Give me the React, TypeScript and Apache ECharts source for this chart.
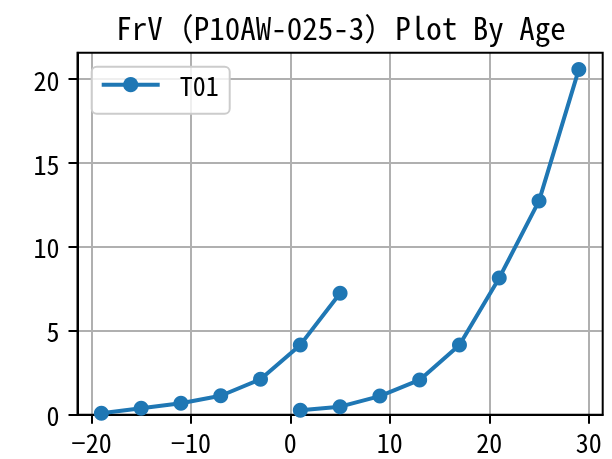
import React, { useEffect, useRef } from 'react';
import * as echarts from 'echarts';

const titleText = 'FrV（P10AW-025-3）Plot By Age';
const seriesName = 'T01';
const agesA = [-19, -15, -11, -7, -3, 1, 5];
const valuesA = [0.08, 0.38, 0.68, 1.13, 2.11, 4.16, 7.24];
const agesB = [1, 5, 9, 13, 17, 21, 25, 29];
const valuesB = [0.26, 0.48, 1.11, 2.07, 4.16, 8.15, 12.74, 20.58];
const xTicks = [-20, -10, 0, 10, 20, 30];
const yTicks = [0, 5, 10, 15, 20];
const xRange = [-21.4, 31.4];
const yRange = [0, 21.575];

const FONT = '"Noto Sans Mono CJK SC", "Noto Sans CJK SC", sans-serif';
const BLUE = '#1f77b4';

export default function App() {
  const ref = useRef<HTMLDivElement>(null);
  useEffect(() => {
    document.body.style.margin = '0';
    const chart = echarts.init(ref.current!, null, { renderer: 'svg' });
    const fmt = (v: number) => (v < 0 ? '\u2212' + Math.abs(v) : String(v));
    const mkSeries = (xs: number[], ys: number[]) => ({
      type: 'line',
      name: seriesName,
      data: xs.map((x, i) => [x, ys[i]]),
      symbol: 'circle',
      symbolSize: 15,
      showSymbol: true,
      lineStyle: { color: BLUE, width: 4 },
      itemStyle: { color: BLUE },
      emphasis: { disabled: true },
      clip: false,
      z: 3,
    });
    chart.setOption({
      animation: false,
      textStyle: { fontFamily: FONT },
      grid: {
        left: 77.5,
        right: 9.3,
        top: 52.7,
        bottom: 44.3,
        show: true,
        borderColor: '#000',
        borderWidth: 2,
        backgroundColor: 'transparent',
        z: 2,
      },
      graphic: [
        {
          type: 'text',
          x: 341,
          y: 26,
          z: 10,
          style: {
            text: titleText,
            fontFamily: FONT,
            fontSize: 31,
            fill: '#000',
            align: 'center',
            verticalAlign: 'middle',
          },
        },
      ],
      legend: {
        left: 91.7,
        top: 66.7,
        data: [seriesName],
        itemWidth: 58,
        itemHeight: 19,
        padding: [5, 11, 16, 8],
        backgroundColor: 'rgba(255,255,255,0.8)',
        borderColor: '#cccccc',
        borderWidth: 2,
        borderRadius: 5,
        lineStyle: { width: 4, color: BLUE },
        itemStyle: { color: BLUE },
        textStyle: {
          fontFamily: FONT,
          fontSize: 26,
          color: '#000',
          padding: [0, 0, 0, 15],
          lineHeight: 26,
        },
        z: 20,
      },
      xAxis: {
        type: 'value',
        min: xRange[0],
        max: xRange[1],
        axisLine: { show: true, onZero: false, lineStyle: { color: '#000', width: 2 } },
        axisTick: { show: true, length: 9, customValues: xTicks, lineStyle: { color: '#000', width: 2 } },
        axisLabel: { customValues: xTicks, formatter: fmt, fontFamily: FONT, fontSize: 26, color: '#000', margin: 14 },
        splitLine: { show: true, lineStyle: { color: '#b0b0b0', width: 2 } },
      },
      yAxis: {
        type: 'value',
        min: yRange[0],
        max: yRange[1],
        axisLine: { show: true, onZero: false, lineStyle: { color: '#000', width: 2 } },
        axisTick: { show: true, length: 9, customValues: yTicks, lineStyle: { color: '#000', width: 2 } },
        axisLabel: { customValues: yTicks, fontFamily: FONT, fontSize: 26, color: '#000', margin: 18 },
        splitLine: { show: true, lineStyle: { color: '#b0b0b0', width: 2 } },
      },
      series: [mkSeries(agesA, valuesA), mkSeries(agesB, valuesB)],
    });
    return () => chart.dispose();
  }, []);
  return <div ref={ref} style={{ position: 'fixed', left: 0, top: 0, width: 612, height: 459 }} />;
}
